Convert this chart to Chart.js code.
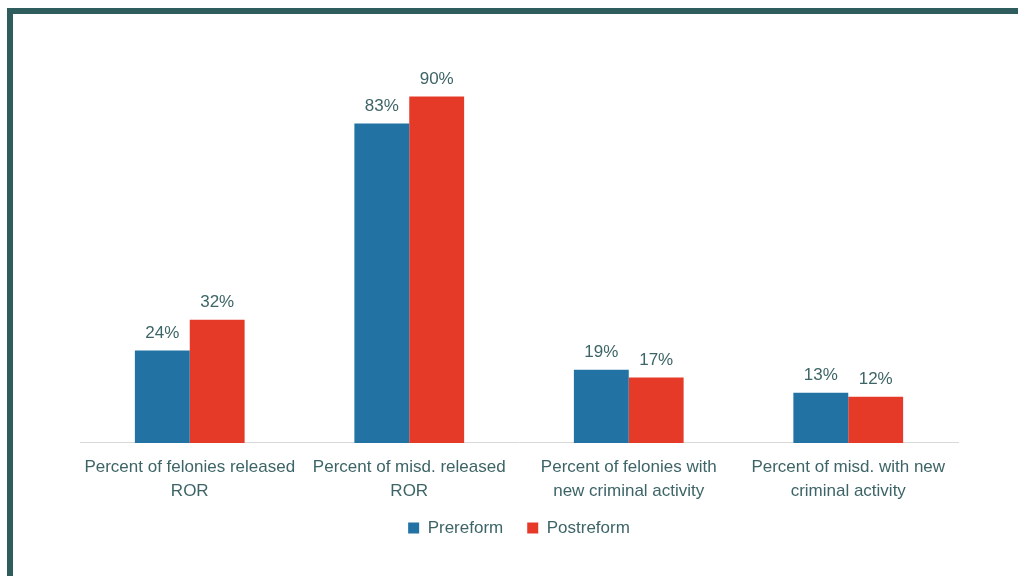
<!DOCTYPE html>
<html>
<head>
<meta charset="utf-8">
<script src="https://cdn.jsdelivr.net/npm/chart.js@4/dist/chart.umd.min.js"></script>
<style>
  html, body { margin: 0; padding: 0; background: #fff; }
  #wrap { position: relative; width: 1018px; height: 576px; overflow: hidden; }
  #frame {
    position: absolute; left: 7px; top: 8px; right: -10px; bottom: -10px;
    border-left: 6px solid #2f5d5e; border-top: 6px solid #2f5d5e;
  }
  canvas { position: absolute; left: 0; top: 0; }
</style>
</head>
<body>
<div id="wrap">
  <div id="frame"></div>
  <canvas id="chart" width="1018" height="576"></canvas>
</div>
<script>
// categories and series
const categories = [
  ["Percent of felonies released", "ROR"],
  ["Percent of misd. released", "ROR"],
  ["Percent of felonies with", "new criminal activity"],
  ["Percent of misd. with new", "criminal activity"]
];
const prereform = [24, 83, 19, 13];
const postreform = [32, 90, 17, 12];

const textColor = "#3d6466";
const fontFamily = "'Liberation Sans', Arial, sans-serif";

// draws the percent above every bar
const barLabels = {
  id: "barLabels",
  afterDatasetsDraw(chart) {
    const ctx = chart.ctx;
    ctx.save();
    ctx.font = "17px " + fontFamily;
    ctx.fillStyle = textColor;
    ctx.textAlign = "center";
    ctx.textBaseline = "bottom";
    chart.data.datasets.forEach((ds, i) => {
      chart.getDatasetMeta(i).data.forEach((bar, j) => {
        ctx.fillText(ds.data[j] + "%", bar.x, bar.y - 9);
      });
    });
    ctx.restore();
  }
};

// legend padding is wide for item spacing, pull it back up a bit
const legendNudge = {
  id: "legendNudge",
  afterLayout(chart) {
    chart.legend.top -= 13;
    chart.legend.bottom -= 13;
  }
};

new Chart(document.getElementById("chart"), {
  type: "bar",
  data: {
    labels: categories,
    datasets: [
      {
        label: "Prereform",
        data: prereform,
        backgroundColor: "#2372a4",
        categoryPercentage: 0.5,
        barPercentage: 1
      },
      {
        label: "Postreform",
        data: postreform,
        backgroundColor: "#e63a29",
        categoryPercentage: 0.5,
        barPercentage: 1
      }
    ]
  },
  options: {
    responsive: false,
    animation: false,
    layout: { padding: { left: 80, right: 60, top: 58, bottom: 16.5 } },
    scales: {
      x: {
        grid: { display: false },
        border: { color: "#d9d9d9", width: 1 },
        ticks: {
          color: textColor,
          font: { family: fontFamily, size: 17, lineHeight: 1.4 },
          padding: 5,
          maxRotation: 0
        }
      },
      y: {
        display: false,
        min: 0,
        max: 100
      }
    },
    plugins: {
      legend: {
        position: "bottom",
        labels: {
          color: textColor,
          font: { family: fontFamily, size: 17 },
          boxWidth: 11,
          boxHeight: 11,
          padding: 24
        }
      },
      tooltip: { enabled: false }
    }
  },
  plugins: [barLabels, legendNudge]
});
</script>
</body>
</html>
